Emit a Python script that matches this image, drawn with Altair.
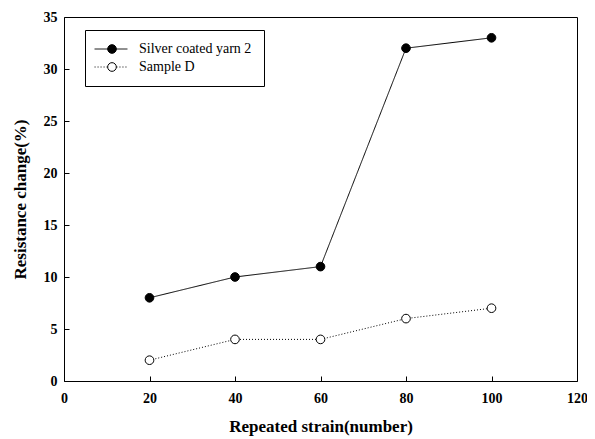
import altair as alt
import pandas as pd

strain = [20, 40, 60, 80, 100]
silver = [8, 10, 11, 32, 33]
sample_d = [2, 4, 4, 6, 7]
series_names = ["Silver coated yarn 2", "Sample D"]
x_ticks = [0, 20, 40, 60, 80, 100, 120]
y_ticks = [0, 5, 10, 15, 20, 25, 30, 35]

rows = []
for name, vals in zip(series_names, [silver, sample_d]):
    for xv, yv in zip(strain, vals):
        rows.append({"strain": xv, "change": yv, "series": name, "series_pt": name})
df = pd.DataFrame(rows)

FONT = "Liberation Serif, Times New Roman, serif"
xscale = alt.Scale(domain=[0, 120], nice=False, zero=False)
yscale = alt.Scale(domain=[0, 35], nice=False)

x_axis = alt.Axis(values=x_ticks, orient="bottom", ticks=False, tickSize=0, domain=False, grid=False,
                  labelFont=FONT, labelFontWeight="bold", labelFontSize=14, labelColor="black",
                  labelPadding=10, labelFlush=False, labelOverlap=False,
                  title="Repeated strain(number)", titleFont=FONT, titleFontWeight="bold",
                  titleFontSize=17, titleColor="black", titlePadding=13)
y_axis = alt.Axis(values=y_ticks, orient="left", ticks=False, tickSize=0, domain=False, grid=False,
                  labelFont=FONT, labelFontWeight="bold", labelFontSize=14, labelColor="black",
                  labelPadding=7, labelFlush=False, labelOverlap=False,
                  title="Resistance change(%)", titleFont=FONT, titleFontWeight="bold",
                  titleFontSize=17, titleColor="black", titlePadding=14)

x_tick_axis = alt.Axis(values=x_ticks, orient="bottom", offset=-5, ticks=True, tickSize=5,
                       tickColor="black", tickWidth=1, labels=False, domain=False, grid=False, title=None)
y_tick_axis = alt.Axis(values=y_ticks, orient="left", offset=-5, ticks=True, tickSize=5,
                       tickColor="black", tickWidth=1, labels=False, domain=False, grid=False, title=None)

line_legend = alt.Legend(title=None, orient="none", legendX=21, legendY=13,
                         symbolType="M-3,0H-0.45M0.45,0H3", symbolSize=120,
                         symbolStrokeColor="black", symbolStrokeWidth=1,
                         symbolOffset=7, labelOffset=21,
                         labelFont=FONT, labelFontSize=14, labelColor="black", labelLimit=300,
                         padding=12, strokeColor="black", rowPadding=4)
pt_legend = alt.Legend(title=None, orient="none", legendX=21, legendY=13,
                       symbolType="circle", symbolSize=75,
                       symbolStrokeColor="black", symbolStrokeWidth=1, symbolOpacity=1,
                       symbolOffset=8, labelOffset=21, labelExpr="''",
                       labelFont=FONT, labelFontSize=14,
                       padding=12, rowPadding=4)

base = alt.Chart(df)

lines = base.mark_line(color="black", strokeWidth=1).encode(
    x=alt.X("strain:Q", scale=xscale, axis=x_axis),
    y=alt.Y("change:Q", scale=yscale, axis=y_axis),
    strokeDash=alt.StrokeDash("series:N", sort=series_names,
                              scale=alt.Scale(range=[[1, 0], [1, 2]]), legend=line_legend),
)

points = base.mark_point(shape="circle", size=75, filled=True, stroke="black",
                         strokeWidth=1, opacity=1).encode(
    x=alt.X("strain:Q", scale=xscale, axis=x_axis),
    y=alt.Y("change:Q", scale=yscale, axis=y_axis),
    fill=alt.Fill("series_pt:N", sort=series_names,
                  scale=alt.Scale(range=["black", "white"]), legend=pt_legend),
)

tick_layer = base.mark_point(opacity=0, size=1).encode(
    x=alt.X("strain:Q", scale=xscale, axis=x_tick_axis),
    y=alt.Y("change:Q", scale=yscale, axis=y_tick_axis),
)

inner = alt.layer(lines, points)
chart = alt.layer(inner, tick_layer).resolve_axis(x="independent", y="independent").properties(
    width=513, height=364,
    autosize=alt.AutoSizeParams(type="none"),
    padding={"left": 56, "top": 9, "right": 10, "bottom": 57},
    background="white",
).configure_view(stroke="black", strokeWidth=1)

chart.save("out.html", embed_options={"renderer": "svg", "actions": False})
